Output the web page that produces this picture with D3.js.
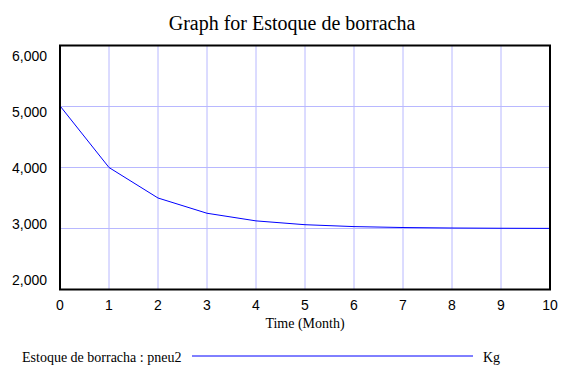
<!DOCTYPE html>
<html><head><meta charset="utf-8">
<script src="https://cdn.jsdelivr.net/npm/d3@7"></script>
<style>body{margin:0;background:#fff;} svg{display:block;}</style>
</head><body>
<script>
const times = [0,1,2,3,4,5,6,7,8,9,10];
const values = [5010,4000,3500,3250,3125,3062,3031,3016,3008,3004,3002];
const yTicks = [2000,3000,4000,5000,6000];
const xTicks = [0,1,2,3,4,5,6,7,8,9,10];
const title = "Graph for Estoque de borracha";
const xTitle = "Time (Month)";
const legendLabel = "Estoque de borracha : pneu2";
const unitLabel = "Kg";

const W=576,H=385;
const svg=d3.select("body").append("svg").attr("width",W).attr("height",H);
const L=60,R=550,T=45.5,B=289.5;
const x=d3.scaleLinear().domain([0,10]).range([L,R]);
const y=d3.scaleLinear().domain([2000,6000]).range([B,T]);
const yLab=d3.scaleLinear().domain([2000,6000]).range([280,56]);
const serif="'Liberation Serif', 'DejaVu Serif', serif";
const sans="'Liberation Sans', 'DejaVu Sans', sans-serif";

svg.append("text").attr("x",292).attr("y",30).attr("text-anchor","middle")
  .style("font-family",serif).attr("font-size",20).text(title);

const grid="#b8b8ff";
svg.append("g").selectAll("line").data(xTicks.slice(1,-1)).join("line")
  .attr("x1",d=>x(d)).attr("x2",d=>x(d)).attr("y1",T).attr("y2",B)
  .attr("stroke",grid).attr("stroke-width",1);
svg.append("g").selectAll("line").data(yTicks.slice(1,-1)).join("line")
  .attr("x1",L).attr("x2",R).attr("y1",d=>y(d)).attr("y2",d=>y(d))
  .attr("stroke",grid).attr("stroke-width",1);

const line=d3.line().x((d,i)=>x(times[i])).y(d=>y(d));
svg.append("path").datum(values).attr("d",line).attr("fill","none")
  .attr("stroke","#0000ff").attr("stroke-width",1);

svg.append("rect").attr("x",L).attr("y",T).attr("width",R-L).attr("height",B-T)
  .attr("fill","none").attr("stroke","#000").attr("stroke-width",2);

const fmt=d3.format(",");
svg.append("g").selectAll("text").data(yTicks).join("text")
  .attr("x",47).attr("y",d=>yLab(d)).attr("dy","0.35em").attr("text-anchor","end")
  .style("font-family",sans).attr("font-size",14).text(d=>fmt(d));
svg.append("g").selectAll("text").data(xTicks).join("text")
  .attr("x",d=>x(d)).attr("y",305).attr("dy","0.35em").attr("text-anchor","middle")
  .style("font-family",sans).attr("font-size",14).text(d=>d);
svg.append("text").attr("x",305).attr("y",323).attr("dy","0.35em").attr("text-anchor","middle")
  .style("font-family",serif).attr("font-size",14).text(xTitle);

svg.append("text").attr("x",22).attr("y",357).attr("dy","0.35em")
  .style("font-family",serif).attr("font-size",14).text(legendLabel);
svg.append("line").attr("x1",192).attr("x2",473).attr("y1",356).attr("y2",356)
  .attr("stroke","#0000ff").attr("stroke-width",1);
svg.append("text").attr("x",483).attr("y",357).attr("dy","0.35em")
  .style("font-family",serif).attr("font-size",14).text(unitLabel);
</script>
</body></html>
